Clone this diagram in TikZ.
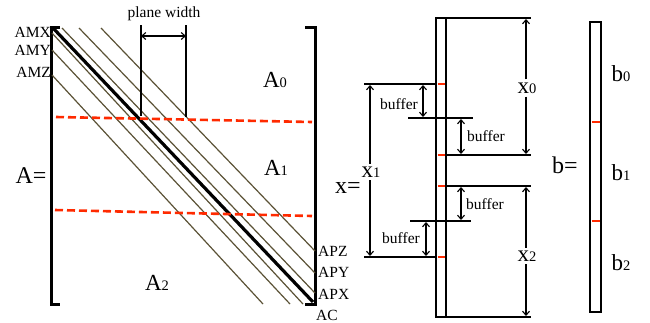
\documentclass[tikz,border=0pt]{standalone}
\usepackage{fontspec}
\setmainfont{Liberation Serif}
\usetikzlibrary{arrows.meta}
\definecolor{olive}{HTML}{5B5236}
\definecolor{redd}{HTML}{FF2A00}
\newcommand{\bigsub}[2]{{\fontsize{23}{23}\selectfont #1}{\fontsize{14.5}{14.5}\selectfont #2}}
\begin{document}
\begin{tikzpicture}[x=1pt,y=-1pt,
  thin line/.style={olive,line width=1.2pt},
  heavy/.style={black,line width=3pt},
  vec/.style={black,line width=2.8pt},
  hline/.style={black,line width=2.8pt},
  redmark/.style={redd,line width=2.8pt},
  reddash/.style={redd,line width=2.6pt,dash pattern=on 8pt off 4pt},
  dim/.style={black,line width=1.1pt,{Straight Barb[length=4pt,width=7pt]}-{Straight Barb[length=4pt,width=7pt]}},
  lab/.style={inner sep=0pt,font=\fontsize{15.5}{15.5}\selectfont},
  big/.style={inner sep=1pt,font=\fontsize{24}{24}\selectfont},
  buf/.style={inner sep=0pt,font=\fontsize{15.5}{15.5}\selectfont}]
\useasboundingbox (0,0) rectangle (650,322);
% ---------- matrix A ----------
\coordinate (LT) at (60,27); \coordinate (LTc) at (51,27);
\coordinate (LB) at (60,304); \coordinate (LBc) at (51,304);
\draw[heavy] (LT) -- (LTc) -- (LBc) -- (LB);
\coordinate (RT) at (305,27); \coordinate (RTc) at (315,27);
\coordinate (RB) at (305,304); \coordinate (RBc) at (315,304);
\draw[heavy] (RT) -- (RTc) -- (RBc) -- (RB);
% olive bands
\coordinate (u1s) at (62,28);  \coordinate (u1e) at (315,293);
\coordinate (u2s) at (79,28);  \coordinate (u2e) at (315,273);
\coordinate (u3s) at (101,28); \coordinate (u3e) at (315,251);
\coordinate (l1s) at (52,33);  \coordinate (l1e) at (303,304);
\coordinate (l2s) at (52,50);  \coordinate (l2e) at (290,304);
\coordinate (l3s) at (52,75);  \coordinate (l3e) at (263,304);
\foreach \p in {u1,u2,u3,l1,l2,l3} \draw[thin line] (\p s) -- (\p e);
% main diagonal
\coordinate (Ds) at (53,28); \coordinate (De) at (313,302);
\draw[black,line width=3.2pt] (Ds) -- (De);
% red dashed separators
\coordinate (r1s) at (56,117); \coordinate (r1e) at (312,122);
\coordinate (r2s) at (55,210); \coordinate (r2e) at (312,216);
\draw[reddash] (r1s) -- (r1e);
\draw[reddash] (r2s) -- (r2e);
% plane width
\coordinate (pw1t) at (141,25); \coordinate (pw1b) at (141,116);
\coordinate (pw2t) at (186,25); \coordinate (pw2b) at (186,117);
\draw[black,line width=1.1pt] (pw1t) -- (pw1b);
\draw[black,line width=1.1pt] (pw2t) -- (pw2b);
\coordinate (pwa) at (141,36); \coordinate (pwb) at (186,36);
\draw[dim] (pwa) -- (pwb);
\node[lab] (pwl) at (164,14) {plane width};
% labels
\node[lab,anchor=east] (amx) at (51,32) {AMX};
\node[lab,anchor=east] (amy) at (51,50) {AMY};
\node[lab,anchor=east] (amz) at (51,72) {AMZ};
\node[lab,anchor=west] (apz) at (318,251) {APZ};
\node[lab,anchor=west] (apy) at (318,272) {APY};
\node[lab,anchor=west] (apx) at (318,294) {APX};
\node[lab,anchor=west] (ac) at (316,315) {AC};
\node[big] (Aeq) at (31,176) {A=};
\node[inner sep=0pt] (A0) at (275,80) {\bigsub{A}{0}};
\node[inner sep=0pt] (A1) at (276,168) {\bigsub{A}{1}};
\node[inner sep=0pt] (A2) at (157,283) {\bigsub{A}{2}};
% ---------- vector x ----------
\coordinate (xa) at (436,18); \coordinate (xb) at (436,317);
\coordinate (xc) at (446,18); \coordinate (xd) at (446,317);
\draw[vec] (xa) -- (xb);
\draw[vec] (xc) -- (xd);
\coordinate (h0a) at (435,18);  \coordinate (h0b) at (531,18);
\coordinate (h7a) at (435,317); \coordinate (h7b) at (531,317);
\coordinate (h1a) at (364,84);  \coordinate (h1b) at (436,84);
\coordinate (h2a) at (408,118); \coordinate (h2b) at (473,118);
\coordinate (h3a) at (446,155); \coordinate (h3b) at (531,155);
\coordinate (h4a) at (446,186); \coordinate (h4b) at (531,186);
\coordinate (h5a) at (410,221); \coordinate (h5b) at (471,221);
\coordinate (h6a) at (364,257); \coordinate (h6b) at (436,257);
\foreach \h in {h0,h1,h2,h3,h4,h5,h6,h7} \draw[hline] (\h a) -- (\h b);
% red marks
\foreach \y [count=\i] in {84,155,186,257} {
  \coordinate (m\i a) at (437.5,\y); \coordinate (m\i b) at (444.5,\y);
  \draw[redmark] (m\i a) -- (m\i b);
}
% dimensions
\node[inner sep=3pt,fill=white] (x0) at (527,88) {\bigsub{x}{0}};
\coordinate (x0t) at (526,19); \coordinate (x0b) at (526,154);
\draw[dim,-{Straight Barb[length=4pt,width=7pt]}] (x0.north -| x0t) -- (x0t);
\draw[dim,-{Straight Barb[length=4pt,width=7pt]}] (x0.south -| x0b) -- (x0b);
\node[inner sep=3pt,fill=white] (x1) at (371,172) {\bigsub{x}{1}};
\coordinate (x1t) at (370,85); \coordinate (x1b) at (370,256);
\draw[dim,-{Straight Barb[length=4pt,width=7pt]}] (x1.north -| x1t) -- (x1t);
\draw[dim,-{Straight Barb[length=4pt,width=7pt]}] (x1.south -| x1b) -- (x1b);
\node[inner sep=3pt,fill=white] (x2) at (527,256) {\bigsub{x}{2}};
\coordinate (x2t) at (526,187); \coordinate (x2b) at (526,316);
\draw[dim,-{Straight Barb[length=4pt,width=7pt]}] (x2.north -| x2t) -- (x2t);
\draw[dim,-{Straight Barb[length=4pt,width=7pt]}] (x2.south -| x2b) -- (x2b);
% buffers
\coordinate (b1t) at (423,85);  \coordinate (b1b) at (423,117);
\coordinate (b2t) at (461,119); \coordinate (b2b) at (461,154);
\coordinate (b3t) at (461,187); \coordinate (b3b) at (461,220);
\coordinate (b4t) at (426,222); \coordinate (b4b) at (426,256);
\foreach \b in {b1,b2,b3,b4} \draw[dim] (\b t) -- (\b b);
\node[buf,anchor=east] (bl1) at (418,104) {buffer};
\node[buf,anchor=west] (bl2) at (467,136) {buffer};
\node[buf,anchor=west] (bl3) at (466,204) {buffer};
\node[buf,anchor=east] (bl4) at (420,238) {buffer};
\node[big] (xeq) at (348,188) {x=};
% ---------- vector b ----------
\node[big] (beq) at (565,165) {b=};
\coordinate (bv1) at (590,22); \coordinate (bv2) at (601,312);
\draw[vec] (bv1) rectangle (bv2);
\coordinate (bm1a) at (591.5,122); \coordinate (bm1b) at (599.5,122);
\coordinate (bm2a) at (591.5,221); \coordinate (bm2b) at (599.5,221);
\draw[redmark] (bm1a) -- (bm1b);
\draw[redmark] (bm2a) -- (bm2b);
\node[inner sep=0pt] (b0l) at (621,74) {\bigsub{b}{0}};
\node[inner sep=0pt] (b1l) at (621,173) {\bigsub{b}{1}};
\node[inner sep=0pt] (b2l) at (621,263) {\bigsub{b}{2}};
\end{tikzpicture}
\end{document}
